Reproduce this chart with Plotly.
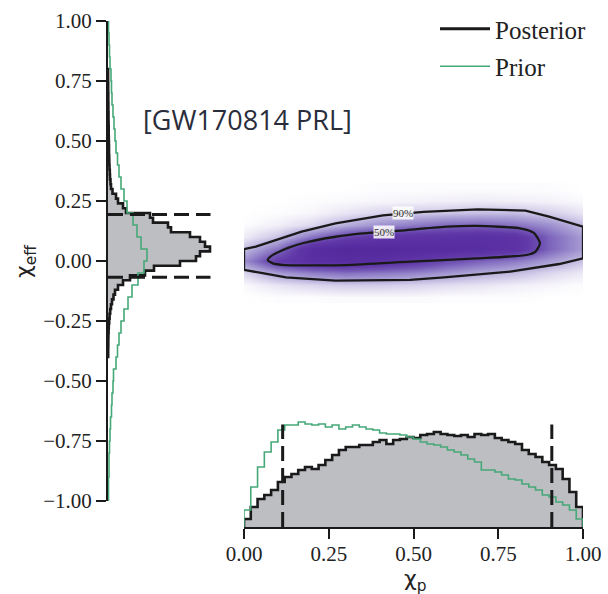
import numpy as np
import plotly.graph_objects as go

# ---------------- data ----------------
# chi_eff marginal (left panel), posterior: bins of 0.02 starting at -0.40
chieff_post_start = -0.40
chieff_post_width = 0.02
chieff_post = [0.2, 0.2, 0.3, 0.3, 0.4, 0.6, 0.8, 1.2, 1.6, 2.2,
               3.0, 4.0, 5.5, 7.0, 10, 15, 22, 37, 46, 72,
               88, 92, 102, 97, 92, 82, 63, 60, 45, 42,
               18, 15, 10, 8, 4.5, 3.0, 2.5, 2.0, 1.8, 1.5,
               1.3, 1.2, 1.0, 1.0, 0.9, 0.8, 0.7, 0.7, 0.6, 0.5,
               0.5, 0.4, 0.4, 0.3, 0.3, 0.2, 0.2, 0.1, 0.1, 0.1]
# chi_eff prior: bins of 0.05 from -1 to 1
chieff_prior_start = -1.0
chieff_prior_width = 0.05
chieff_prior = [0.5, 0.5, 1.0, 1.0, 1.5, 2.0, 2.5, 3.5, 4.0, 5.0,
                5.5, 8.0, 9.5, 11, 13, 16, 20, 24, 30, 36,
                39, 33, 29, 25, 19, 16, 13, 11, 9.5, 8.0,
                7.0, 6.0, 5.0, 4.0, 3.5, 3.0, 2.0, 1.5, 1.0, 0.5]

# chi_p marginal (bottom panel): 50 bins of 0.02 from 0 to 1
chip_width = 0.02
chip_post = [8, 20, 28, 32, 37, 45, 50, 53, 57, 60,
             58, 62, 67, 72, 77, 80, 80, 82, 82, 85,
             87, 83, 87, 88, 90, 89, 92, 93, 95, 93,
             92, 91, 92, 90, 93, 92, 93, 89, 87, 85,
             83, 77, 73, 70, 65, 62, 58, 48, 35, 20]
chip_prior = [17, 40, 60, 75, 85, 97, 102, 102, 105, 103,
              102, 103, 100, 102, 98, 100, 102, 100, 98, 97,
              94, 93, 93, 92, 90, 88, 85, 83, 82, 80,
              77, 75, 72, 68, 65, 57, 57, 55, 52, 48,
              47, 43, 40, 37, 32, 30, 25, 22, 17, 8]

# 90% credible bounds
chieff_bounds = [-0.068, 0.194]
chip_bounds = [0.114, 0.908]

# 2D posterior density on a coarse grid (rows: chi_eff, cols: chi_p)
grid_chip = [0.0, 0.1, 0.2, 0.3, 0.4, 0.5, 0.6, 0.7, 0.8, 0.9, 1.0]
grid_chieff = [-0.15, -0.10, -0.05, 0.00, 0.05, 0.10, 0.15, 0.20, 0.25, 0.30]
density = [
    [0.00, 0.01, 0.01, 0.02, 0.02, 0.02, 0.01, 0.01, 0.01, 0.00, 0.00],
    [0.02, 0.08, 0.12, 0.15, 0.15, 0.13, 0.10, 0.08, 0.05, 0.03, 0.01],
    [0.12, 0.30, 0.40, 0.45, 0.42, 0.38, 0.32, 0.25, 0.20, 0.12, 0.06],
    [0.35, 0.70, 0.85, 0.90, 0.85, 0.75, 0.60, 0.50, 0.42, 0.30, 0.18],
    [0.20, 0.45, 0.90, 1.00, 1.00, 0.95, 0.92, 0.88, 0.80, 0.50, 0.30],
    [0.06, 0.18, 0.45, 0.65, 0.75, 0.80, 0.82, 0.85, 0.80, 0.50, 0.30],
    [0.01, 0.05, 0.12, 0.25, 0.35, 0.42, 0.48, 0.50, 0.45, 0.35, 0.20],
    [0.00, 0.01, 0.03, 0.08, 0.13, 0.16, 0.18, 0.20, 0.20, 0.15, 0.08],
    [0.00, 0.00, 0.01, 0.02, 0.03, 0.04, 0.05, 0.06, 0.05, 0.04, 0.02],
    [0.00, 0.00, 0.00, 0.00, 0.01, 0.01, 0.01, 0.01, 0.01, 0.01, 0.00],
]

# credible-region contours (chi_p, chi_eff)
c90_chip = [0.0, 0.0, 0.035, 0.094, 0.17, 0.27, 0.41, 0.53, 0.69, 0.83, 0.90, 1.0,
            1.0, 0.93, 0.785, 0.59, 0.49, 0.27, 0.124, 0.055, 0.0]
c90_chieff = [-0.037, 0.049, 0.060, 0.088, 0.122, 0.157, 0.190, 0.205, 0.215, 0.210, 0.185, 0.143,
              0.011, -0.0125, -0.044, -0.068, -0.079, -0.082, -0.068, -0.051, -0.037]
c50_chip = [0.070, 0.078, 0.094, 0.13, 0.173, 0.27, 0.35, 0.48, 0.60, 0.686, 0.814, 0.855,
            0.873, 0.860, 0.834, 0.686, 0.49, 0.30, 0.20, 0.12, 0.085, 0.070]
c50_chieff = [0.004, 0.018, 0.032, 0.055, 0.074, 0.101, 0.115, 0.129, 0.143, 0.146, 0.136, 0.117,
              0.074, 0.039, 0.025, 0.011, -0.003, -0.017, -0.018, -0.017, -0.010, 0.004]

ytick_vals = [-1.0, -0.75, -0.5, -0.25, 0.0, 0.25, 0.5, 0.75, 1.0]
ytick_text = ["\u22121.00", "\u22120.75", "\u22120.50", "\u22120.25", "0.00", "0.25", "0.50", "0.75", "1.00"]
xtick_vals = [0.0, 0.25, 0.5, 0.75, 1.0]
xtick_text = ["0.00", "0.25", "0.50", "0.75", "1.00"]

# ---------------- styling ----------------
W, H = 608, 594
BLACK = "#1a1a1a"
GREEN = "#45a878"
GRAY = "#bdbec2"
SERIF = "Liberation Serif"
PANEL_TOP = 102.5


def px(x):
    return x / W


def py(y):
    return 1 - y / H


def vstep(start, width, vals):
    """step outline for a histogram whose bins run along the y axis"""
    edges = start + width * np.arange(len(vals) + 1)
    ys = [edges[0]] + list(edges) + [edges[-1]]
    xs = [0] + list(vals) + [vals[-1], 0]
    return xs, ys


def hstep(start, width, vals):
    edges = start + width * np.arange(len(vals) + 1)
    xs = [edges[0]] + list(edges) + [edges[-1]]
    ys = [0] + list(vals) + [vals[-1], 0]
    return xs, ys


fig = go.Figure()

# ---- 2D panel ----
purples = [[0.0, "#ffffff"], [0.04, "#f4f2f9"], [0.12, "#dcd7ee"], [0.25, "#b5acda"],
           [0.4, "#9180c8"], [0.55, "#7255b5"], [0.7, "#6239a8"], [0.85, "#5a2fa3"],
           [1.0, "#54299c"]]
fig.add_trace(go.Heatmap(x=grid_chip, y=grid_chieff, z=density, zsmooth="best",
                         colorscale=purples, zmin=0, zmax=1, showscale=False,
                         xaxis="x3", yaxis="y3", hoverinfo="skip"))
fig.add_trace(go.Scatter(x=c90_chip, y=c90_chieff, mode="lines",
                         line=dict(width=2.3, color=BLACK), xaxis="x3", yaxis="y3",
                         showlegend=False, hoverinfo="skip"))
fig.add_trace(go.Scatter(x=c50_chip, y=c50_chieff, mode="lines",
                         line=dict(width=2.3, color=BLACK, shape="spline", smoothing=0.6),
                         xaxis="x3", yaxis="y3", showlegend=False, hoverinfo="skip"))

# ---- left panel: chi_eff ----
xs, ys = vstep(chieff_post_start, chieff_post_width, chieff_post)
fig.add_trace(go.Scatter(x=xs, y=ys, mode="lines", line=dict(shape="vh", width=2.6, color=BLACK),
                         fill="toself", fillcolor=GRAY, xaxis="x", yaxis="y", showlegend=False,
                         hoverinfo="skip"))
xs, ys = vstep(chieff_prior_start, chieff_prior_width, chieff_prior)
fig.add_trace(go.Scatter(x=xs, y=ys, mode="lines", line=dict(shape="vh", width=1.6, color=GREEN),
                         xaxis="x", yaxis="y", showlegend=False, hoverinfo="skip"))
for b in chieff_bounds:
    fig.add_trace(go.Scatter(x=[0, PANEL_TOP], y=[b, b], mode="lines",
                             line=dict(width=3, color=BLACK, dash="15px,7px"),
                             xaxis="x", yaxis="y", showlegend=False, hoverinfo="skip"))

# ---- bottom panel: chi_p ----
xs, ys = hstep(0.0, chip_width, chip_post)
fig.add_trace(go.Scatter(x=xs, y=ys, mode="lines", line=dict(shape="hv", width=2.6, color=BLACK),
                         fill="toself", fillcolor=GRAY, xaxis="x2", yaxis="y2", showlegend=False,
                         hoverinfo="skip"))
xs, ys = hstep(0.0, chip_width, chip_prior)
fig.add_trace(go.Scatter(x=xs, y=ys, mode="lines", line=dict(shape="hv", width=1.6, color=GREEN),
                         xaxis="x2", yaxis="y2", showlegend=False, hoverinfo="skip"))
for b in chip_bounds:
    fig.add_trace(go.Scatter(x=[b, b], y=[0, PANEL_TOP], mode="lines",
                             line=dict(width=3, color=BLACK, dash="15px,7px"),
                             xaxis="x2", yaxis="y2", showlegend=False, hoverinfo="skip"))

# legend entries
fig.add_trace(go.Scatter(x=[None], y=[None], mode="lines", name="Posterior",
                         line=dict(width=3, color=BLACK), xaxis="x3", yaxis="y3",
                         legendgroup="a"))
fig.add_trace(go.Scatter(x=[None], y=[None], mode="lines", name="Prior",
                         line=dict(width=1.6, color=GREEN), xaxis="x3", yaxis="y3",
                         legendgroup="b"))

tickfont = dict(family=SERIF, size=21, color="#222222")
left_dom = [px(108), px(215)]
mid_dom = [px(244), px(583)]
ydom_main = [py(501), py(21)]
ydom_bottom = [py(527), py(420)]

fig.update_layout(
    width=W, height=H,
    margin=dict(l=0, r=0, t=0, b=0, autoexpand=False),
    paper_bgcolor="white", plot_bgcolor="rgba(0,0,0,0)",
    showlegend=True,
    legend=dict(x=px(435), y=py(6), xanchor="left", yanchor="top",
                font=dict(family=SERIF, size=25, color="#222222"),
                bgcolor="rgba(0,0,0,0)", traceorder="grouped", tracegroupgap=2,
                itemwidth=50),
    xaxis=dict(domain=left_dom, range=[0, 107], visible=False, anchor="y"),
    yaxis=dict(domain=ydom_main, range=[-1, 1], anchor="x", showline=True, linewidth=2,
               linecolor=BLACK, ticks="outside", ticklen=10, tickwidth=2, tickcolor=BLACK,
               tickvals=ytick_vals, ticktext=ytick_text, tickfont=tickfont,
               showgrid=False, zeroline=False),
    xaxis2=dict(domain=mid_dom, range=[0, 1], anchor="y2", showline=True, linewidth=2,
                linecolor=BLACK, ticks="outside", ticklen=10, tickwidth=2, tickcolor=BLACK,
                tickvals=xtick_vals, ticktext=xtick_text, tickfont=tickfont,
                ticklabelstandoff=-3, showgrid=False, zeroline=False),
    yaxis2=dict(domain=ydom_bottom, range=[0, 107], visible=False, anchor="x2"),
    xaxis3=dict(domain=mid_dom, range=[0, 1], visible=False, anchor="y3"),
    yaxis3=dict(domain=ydom_main, range=[-1, 1], visible=False, anchor="x3"),
    annotations=[
        dict(text="χ<sub>eff</sub>", x=px(25), y=py(262), xref="paper", yref="paper",
             xanchor="center", yanchor="middle",
             showarrow=False, textangle=-90, font=dict(family="DejaVu Sans", size=22, color="#222222")),
        dict(text="χ<sub>p</sub>", x=px(415), y=py(580), xref="paper", yref="paper",
             xanchor="center", yanchor="middle",
             showarrow=False, font=dict(family="DejaVu Sans", size=22, color="#222222")),
        dict(text="[GW170814 PRL]", x=px(247), y=py(120), xref="paper", yref="paper",
             xanchor="center", yanchor="middle",
             showarrow=False, font=dict(family="Open Sans", size=27, color="#2a2d3c")),
        dict(text="90%", x=0.47, y=0.200, xref="x3", yref="y3", showarrow=False,
             font=dict(family=SERIF, size=11, color="#333333"),
             bgcolor="rgba(255,255,255,0.85)", borderpad=0),
        dict(text="50%", x=0.413, y=0.122, xref="x3", yref="y3", showarrow=False,
             font=dict(family=SERIF, size=11, color="#333333"),
             bgcolor="rgba(255,255,255,0.85)", borderpad=0),
    ],
)

fig.write_html("out.html")
